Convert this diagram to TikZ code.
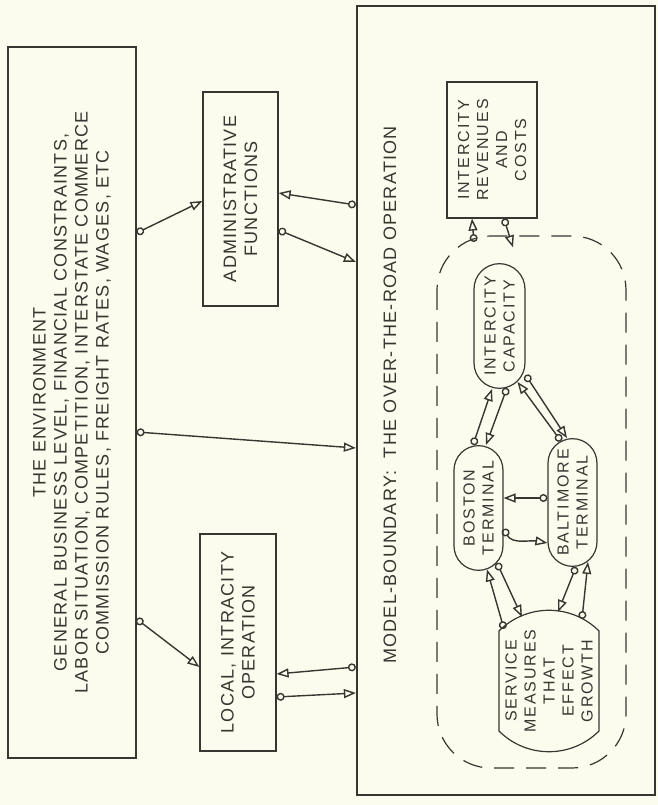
\documentclass[tikz,border=0pt]{standalone}
\usepackage{fontspec}
\setmainfont{Liberation Sans}[LetterSpace=7]
\usetikzlibrary{arrows.meta, positioning, shapes.misc, calc}
\definecolor{paper}{RGB}{252,252,238}
\definecolor{ink}{RGB}{55,55,50}
\tikzset{
  every node/.style={font=\fontsize{9}{10.5}\selectfont, text=ink, align=center},
  box/.style={draw=ink, line width=0.6pt}, % the square boxes
  small/.style={font=\fontsize{8}{9.5}\selectfont\addfontfeatures{LetterSpace=12}},
  term/.style={box, small, rounded rectangle}, % sausage shaped blocks
  flow/.style={draw=ink, line width=0.7pt,
    {Circle[open,length=4pt]}-{Triangle[open,length=6pt,width=4.5pt]}}, % circle at the source
}
\begin{document}
\begin{tikzpicture}[rotate=90, transform shape, x=0.5pt, y=0.5pt]

    \fill[paper] (0,0) rectangle (805,658);

    % outside the model
    \node[box, minimum width=355.5pt, minimum height=64pt] (env) at (402.5,586)
      {THE ENVIRONMENT\\GENERAL BUSINESS LEVEL, FINANCIAL CONSTRAINTS,\\
      LABOR SITUATION, COMPETITION, INTERSTATE COMMERCE\\
      COMMISSION RULES, FREIGHT RATES, WAGES, ETC};
    \node[box, minimum width=107pt, minimum height=37.5pt] (admin) at (606,417.5)
      {ADMINISTRATIVE\\FUNCTIONS};
    \node[box, minimum width=108.5pt, minimum height=38pt] (intra) at (162.5,420)
      {LOCAL, INTRACITY\\OPERATION};

    % the model
    \node[draw=ink, line width=1.1pt, minimum width=394.5pt, minimum height=149pt] (model)
      at (404.5,152) {};
    \node (title) at (410,268) {MODEL-BOUNDARY:\ \ THE OVER-THE-ROAD OPERATION};
    \node[box, small, minimum width=68pt, minimum height=45pt] (rev) at (655,166)
      {INTERCITY\\REVENUES\\AND\\COSTS};
    \node[draw=ink, line width=0.6pt, dash pattern=on 10pt off 6pt, rounded corners=27pt,
      minimum width=266pt, minimum height=94.5pt] (boundary) at (303,126.5) {};
    \node[term, minimum width=69pt, minimum height=25.5pt] (cap) at (479,158.5)
      {INTERCITY\\CAPACITY};
    \node[term, minimum width=69pt, minimum height=24.5pt] (boston) at (297,179.5)
      {BOSTON\\TERMINAL};
    \node[term, minimum width=70.5pt, minimum height=24.5pt] (balt) at (302.5,85.5)
      {BALTIMORE\\TERMINAL};
    \node[term, rounded rectangle arc length=90, inner sep=1pt,
      minimum width=70pt, minimum height=50pt] (service) at (124,109)
      {SERVICE\\MEASURES\\THAT\\EFFECT\\GROWTH};

    % links to the outside
    \draw[flow] ($(env.south)+(169.5,0)$) -- ($(admin.north)+(-2,0)$);
    \draw[flow] ($(model.north)+(195.5,0)$) -- ($(admin.south)+(6,0)$);
    \draw[flow] ($(admin.south)+(-31,0)$) -- ($(model.north)+(138.5,0)$);
    \draw[flow] ($(env.south)+(-29.5,0)$) -- ($(model.north)+(-47.5,0)$);
    \draw[flow] ($(env.south)+(-216.5,0)$) -- ($(intra.north)+(-24.5,0)$);
    \draw[flow] ($(model.north)+(-266.5,0)$) -- ($(intra.south)+(-31.5,0)$);
    \draw[flow] ($(intra.south)+(-54.5,0)$) -- ($(model.north)+(-292.5,0)$);

    % links inside the model
    \draw[flow] ($(boundary.center)+(260,57.5)$) -- ($(rev.west)+(0,20)$);
    \draw[flow] ($(rev.west)+(0,-12)$) -- ($(boundary.east)+(-12,18.5)$);
    \draw[flow] ($(boston.east)+(0,5.5)$) -- ($(cap.west)+(0,7.5)$);
    \draw[flow] ($(cap.west)+(1,-7.5)$) -- ($(boston.east)+(0,-7.5)$);
    \draw[flow] ($(cap.south)+(-49,0)$) -- ($(balt.east)+(0,5.5)$);
    \draw[flow] ($(balt.east)+(-3,11.5)$) -- ($(cap.west)+(7,-18)$);
    \draw[flow] ($(balt.north)+(4.5,0)$) -- ($(boston.south)+(10,0)$);
    \draw[flow] ($(boston.south)+(-21,0)$) to[out=210,in=80] ($(balt.north)+(-40.5,0)$);
    \draw[flow] ($(boston.west)+(8,-18.5)$) -- ($(service.center)+(64,27)$);
    \draw[flow] ($(service.center)+(52,45)$) -- ($(boston.west)+(1.5,-8.5)$);
    \draw[flow] ($(balt.west)+(0,-3.5)$) -- ($(service.center)+(69,-9)$);
    \draw[flow] ($(service.center)+(62,-33)$) -- ($(balt.west)+(5,-15.5)$);

\end{tikzpicture}
\end{document}
